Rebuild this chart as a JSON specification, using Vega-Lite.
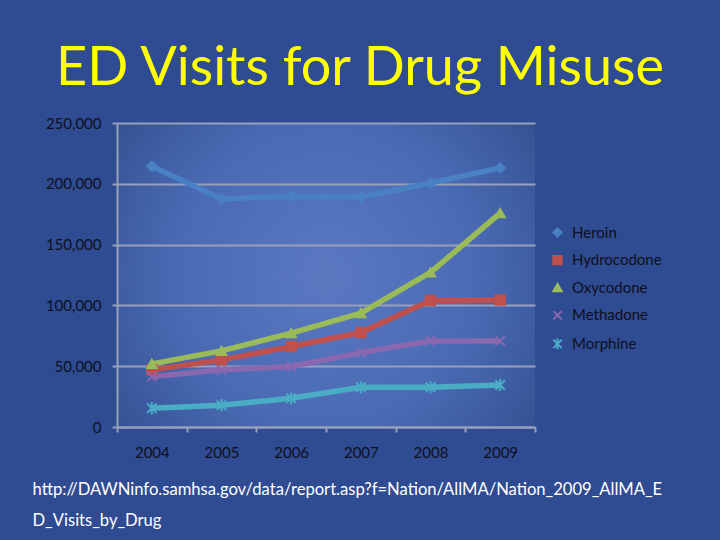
{
  "$schema": "https://vega.github.io/schema/vega-lite/v6.json",
  "autosize": {"type": "none"},
  "width": 418,
  "height": 304,
  "padding": {"left": 117, "top": 123, "right": 185, "bottom": 113},
  "background": "#2f4b92",
  "view": {
    "stroke": null,
    "fill": {
      "gradient": "radial",
      "x1": 0.5, "y1": 0.5, "r1": 0,
      "x2": 0.5, "y2": 0.5, "r2": 0.65,
      "stops": [
        {"offset": 0, "color": "#5a79c1"},
        {"offset": 0.55, "color": "#4a6ab4"},
        {"offset": 1, "color": "#32508f"}
      ]
    }
  },
  "title": {
    "text": "ED Visits for Drug Misuse",
    "font": "Lato",
    "fontSize": 54,
    "fontWeight": "normal",
    "color": "#ffff00",
    "anchor": "middle",
    "frame": "group",
    "dx": 34,
    "offset": 20
  },
  "data": {
    "values": [
      {"year": "2004", "drug": "Heroin", "visits": 214400},
      {"year": "2005", "drug": "Heroin", "visits": 187600},
      {"year": "2006", "drug": "Heroin", "visits": 189700},
      {"year": "2007", "drug": "Heroin", "visits": 189200},
      {"year": "2008", "drug": "Heroin", "visits": 200700},
      {"year": "2009", "drug": "Heroin", "visits": 213100},
      {"year": "2004", "drug": "Hydrocodone", "visits": 47000},
      {"year": "2005", "drug": "Hydrocodone", "visits": 55200},
      {"year": "2006", "drug": "Hydrocodone", "visits": 66200},
      {"year": "2007", "drug": "Hydrocodone", "visits": 77700},
      {"year": "2008", "drug": "Hydrocodone", "visits": 104000},
      {"year": "2009", "drug": "Hydrocodone", "visits": 104500},
      {"year": "2004", "drug": "Oxycodone", "visits": 51900},
      {"year": "2005", "drug": "Oxycodone", "visits": 62600},
      {"year": "2006", "drug": "Oxycodone", "visits": 77200},
      {"year": "2007", "drug": "Oxycodone", "visits": 93600},
      {"year": "2008", "drug": "Oxycodone", "visits": 127100},
      {"year": "2009", "drug": "Oxycodone", "visits": 175900},
      {"year": "2004", "drug": "Methadone", "visits": 41400},
      {"year": "2005", "drug": "Methadone", "visits": 47000},
      {"year": "2006", "drug": "Methadone", "visits": 49700},
      {"year": "2007", "drug": "Methadone", "visits": 61200},
      {"year": "2008", "drug": "Methadone", "visits": 70800},
      {"year": "2009", "drug": "Methadone", "visits": 70800},
      {"year": "2004", "drug": "Morphine", "visits": 15400},
      {"year": "2005", "drug": "Morphine", "visits": 17900},
      {"year": "2006", "drug": "Morphine", "visits": 23600},
      {"year": "2007", "drug": "Morphine", "visits": 32700},
      {"year": "2008", "drug": "Morphine", "visits": 32700},
      {"year": "2009", "drug": "Morphine", "visits": 34600}
    ]
  },
  "encoding": {
    "x": {
      "field": "year",
      "type": "nominal",
      "scale": {"paddingInner": 0, "paddingOuter": 0},
      "axis": {
        "labelAngle": 0,
        "tickBand": "extent",
        "labelFont": "Lato",
        "labelFontSize": 15,
        "labelColor": "#0d1020",
        "labelPadding": 13,
        "tickSize": 5,
        "tickColor": "#98a0bb",
        "tickWidth": 2,
        "domainColor": "#98a0bb",
        "domainWidth": 2,
        "grid": false,
        "title": ["http://DAWNinfo.samhsa.gov/data/report.asp?f=Nation/AllMA/Nation_2009_AllMA_E", "D_Visits_by_Drug"],
        "titleFont": "Lato",
        "titleFontSize": 16.6,
        "titleFontWeight": "normal",
        "titleColor": "#ffffff",
        "titleAlign": "left",
        "titleBaseline": "alphabetic",
        "titleAnchor": "start",
        "titleX": -85,
        "titleY": 67,
        "titleLineHeight": 31
      }
    },
    "y": {
      "field": "visits",
      "type": "quantitative",
      "scale": {"domain": [0, 250000], "nice": false},
      "axis": {
        "values": [0, 50000, 100000, 150000, 200000, 250000],
        "format": ",.0f",
        "labelFont": "Lato",
        "labelFontSize": 15,
        "labelColor": "#0d1020",
        "labelPadding": 11,
        "tickSize": 5,
        "tickColor": "#98a0bb",
        "tickWidth": 2,
        "domainColor": "#98a0bb",
        "domainWidth": 2,
        "grid": true,
        "gridColor": "#98a0bb",
        "gridWidth": 2,
        "title": null
      }
    },
    "color": {
      "field": "drug",
      "type": "nominal",
      "scale": {
        "domain": ["Heroin", "Hydrocodone", "Oxycodone", "Methadone", "Morphine"],
        "range": ["#4a80c4", "#c0504d", "#9bbb59", "#8a68b0", "#4bacc6"]
      },
      "legend": {
        "title": null,
        "orient": "none",
        "legendX": 433,
        "legendY": 102,
        "padding": 0,
        "symbolSize": 70,
        "symbolStrokeWidth": 2,
        "labelOffset": 7,
        "rowPadding": 10.6,
        "labelFont": "Lato",
        "labelFontSize": 15,
        "labelColor": "#0d1020"
      }
    }
  },
  "layer": [
    {
      "mark": {"type": "line", "strokeWidth": 5.5, "strokeJoin": "round"},
      "encoding": {
        "detail": {"field": "drug"}
      }
    },
    {
      "mark": {"type": "point", "filled": true, "opacity": 1, "size": 90, "strokeWidth": 2},
      "encoding": {
        "shape": {
          "field": "drug",
          "type": "nominal",
          "scale": {
            "domain": ["Heroin", "Hydrocodone", "Oxycodone", "Methadone", "Morphine"],
            "range": ["diamond", "square", "triangle-up", "M-1,-1L1,1M-1,1L1,-1", "M-1,-1L1,1M-1,1L1,-1M0,-1.3L0,1.3"]
          },
          "legend": null
        },
        "stroke": {
          "field": "drug",
          "type": "nominal",
          "scale": {
            "domain": ["Heroin", "Hydrocodone", "Oxycodone", "Methadone", "Morphine"],
            "range": ["#4a80c4", "#c0504d", "#9bbb59", "#8a68b0", "#4bacc6"]
          },
          "legend": null
        }
      }
    }
  ]
}
